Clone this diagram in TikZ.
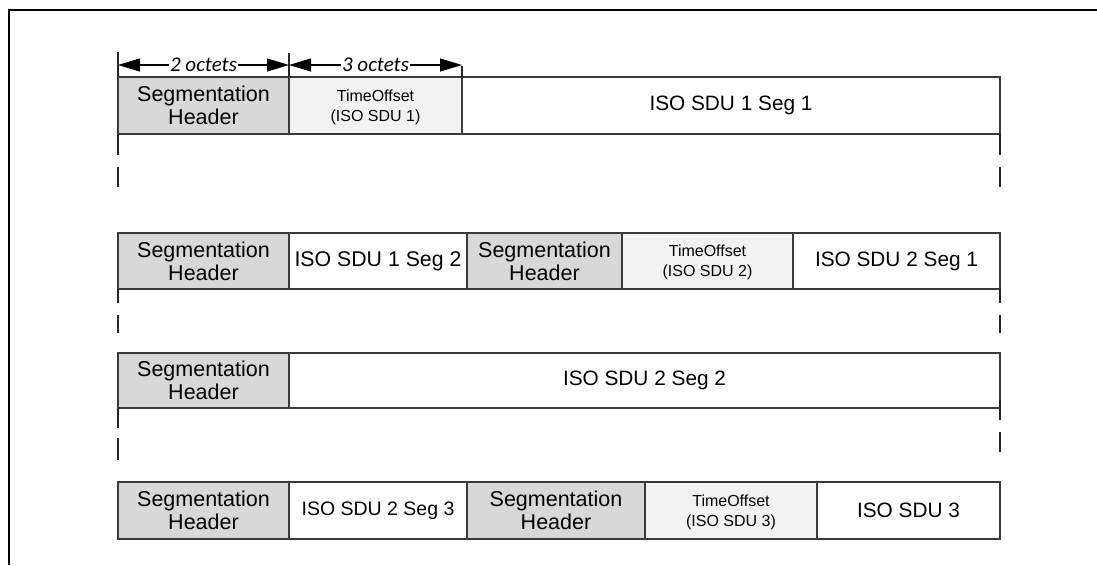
\documentclass[tikz,border=0pt]{standalone}
\usepackage{fontspec}
\setmainfont{Liberation Sans}
\newfontfamily\calib{Carlito}
\usetikzlibrary{arrows.meta}
\definecolor{segfill}{HTML}{D8D8D8}
\definecolor{tofill}{HTML}{F2F2F2}
\definecolor{boxline}{HTML}{3A3A3A}
\newcommand\boxfont{\fontsize{21.5}{23}\selectfont}
\newcommand\datafont{\fontsize{20.8}{23}\selectfont}
\newcommand\tofont{\fontsize{16}{20}\selectfont}
\newcommand\dimfont{\calib\itshape\fontsize{21}{24}\selectfont}
\tikzset{
  field/.style={draw=boxline, line width=1.3pt, inner sep=0pt, outer sep=0pt,
    anchor=north west, align=center, font=\boxfont},
  segh/.style={field, fill=segfill},
  toff/.style={field, fill=tofill, font=\tofont, text depth=0pt},
  data/.style={field, fill=white, font=\datafont},
  tickline/.style={draw=black!85, line width=1.4pt},
  dimarrow/.style={line width=1.2pt,
    {Triangle[length=22pt,width=13pt]}-{Triangle[length=22pt,width=13pt]}},
  dimlabel/.style={fill=white, inner sep=1pt, font=\dimfont},
}
\begin{document}
\begin{tikzpicture}[x=1pt,y=-1pt]
\useasboundingbox (0,0) rectangle (1097,565);
% frame
\draw[line width=2.5pt] (9,565) -- (9,10) -- (1097,10);

% row 1
\node[segh, minimum width=171pt, minimum height=57pt] (s1) at (118,77) {Segmentation\\Header};
\node[toff, minimum width=173pt, minimum height=57pt] (t1) at (289,77) {TimeOffset\\(ISO SDU 1)};
\node[data, minimum width=538pt, minimum height=57pt] (d1) at (462,77) {ISO SDU 1 Seg 1};

% dimension arrows
\draw[tickline] (s1.north west) -- ++(0,-25);
\draw[tickline] (t1.north west) -- ++(0,-24);
\draw[tickline] (t1.north east) -- ++(0,-11);
\draw[dimarrow] ([yshift=12pt]s1.north west) -- node[dimlabel]{2 octets} ([yshift=12pt]s1.north east);
\draw[dimarrow] ([yshift=12pt]t1.north west) -- node[dimlabel]{3 octets} ([yshift=12pt]t1.north east);

% ticks below row 1
\draw[tickline] (s1.south west) -- ++(0,21);
\draw[tickline] (s1.south west) ++(0,33) -- ++(0,20);
\draw[tickline] (d1.south east) -- ++(0,21);
\draw[tickline] (d1.south east) ++(0,33) -- ++(0,20);

% row 2
\node[segh, minimum width=171pt, minimum height=56pt] (s2a) at (118,233) {Segmentation\\Header};
\node[data, minimum width=178pt, minimum height=56pt, font=\fontsize{21.3}{23}\selectfont] (d2a) at (289,233) {ISO SDU 1 Seg 2};
\node[segh, minimum width=155pt, minimum height=56pt] (s2b) at (467,233) {Segmentation\\Header};
\node[toff, minimum width=171pt, minimum height=56pt] (t2) at (622,233) {TimeOffset\\(ISO SDU 2)};
\node[data, minimum width=207pt, minimum height=56pt] (d2b) at (793,233) {ISO SDU 2 Seg 1};

% ticks below row 2
\draw[tickline] (s2a.south west) -- ++(0,14);
\draw[tickline] (s2a.south west) ++(0,26) -- ++(0,18);
\draw[tickline] (d2b.south east) -- ++(0,14);
\draw[tickline] (d2b.south east) ++(0,26) -- ++(0,18);

% row 3
\node[segh, minimum width=171pt, minimum height=55pt] (s3) at (118,353) {Segmentation\\Header};
\node[data, minimum width=711pt, minimum height=55pt] (d3) at (289,353) {ISO SDU 2 Seg 2};

% ticks below row 3
\draw[tickline] (s3.south west) -- ++(0,20);
\draw[tickline] (s3.south west) ++(0,30) -- ++(0,22);
\draw[tickline] ([yshift=8pt]d3.south east) -- ++(0,20);
\draw[tickline] ([yshift=8pt]d3.south east) ++(0,32) -- ++(0,20);

% row 4
\node[segh, minimum width=171pt, minimum height=57pt] (s4a) at (118,482) {Segmentation\\Header};
\node[data, minimum width=178pt, minimum height=57pt, font=\fontsize{19.5}{23}\selectfont] (d4a) at (289,482) {ISO SDU 2 Seg 3};
\node[segh, minimum width=178pt, minimum height=57pt] (s4b) at (467,482) {Segmentation\\Header};
\node[toff, minimum width=172pt, minimum height=57pt] (t4) at (645,482) {TimeOffset\\(ISO SDU 3)};
\node[data, minimum width=183pt, minimum height=57pt] (d4b) at (817,482) {ISO SDU 3};
\end{tikzpicture}
\end{document}
